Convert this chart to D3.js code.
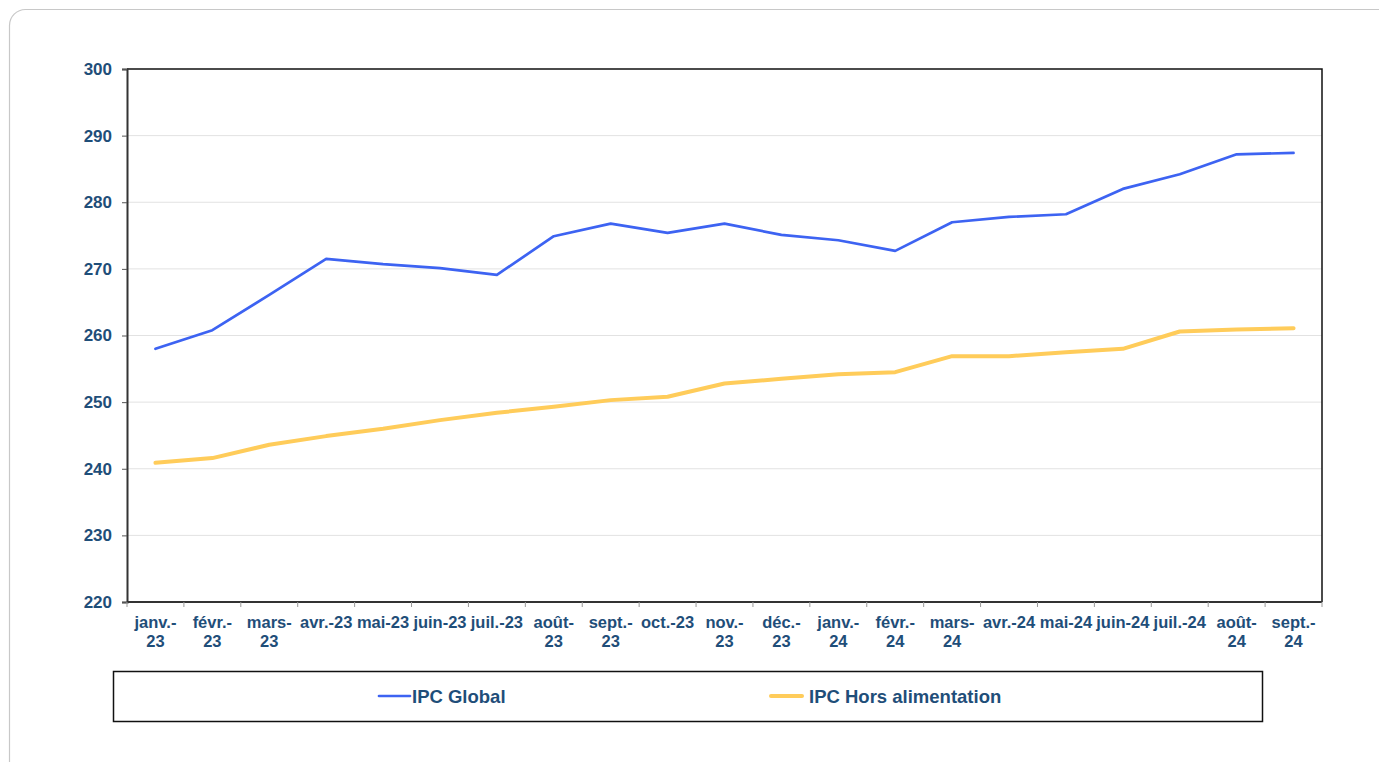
<!DOCTYPE html>
<html>
<head>
<meta charset="utf-8">
<script src="https://cdn.jsdelivr.net/npm/d3@7"></script>
<style>
  body { margin: 0; background: white; }
  svg { display: block; font-family: "Liberation Sans", Arial, sans-serif; }
</style>
</head>
<body>
<div id="chart-area"></div>
<script>
// months, "|" marks where the label wraps
const months = ["janv.-|23", "févr.-|23", "mars-|23", "avr.-23", "mai-23", "juin-23", "juil.-23",
    "août-|23", "sept.-|23", "oct.-23", "nov.-|23", "déc.-|23", "janv.-|24", "févr.-|24",
    "mars-|24", "avr.-24", "mai-24", "juin-24", "juil.-24", "août-|24", "sept.-|24"]

const ipcGlobal = [258.0, 260.8, 266.1, 271.5, 270.7, 270.1, 269.1, 274.9, 276.8, 275.4, 276.8,
    275.1, 274.3, 272.7, 277.0, 277.8, 278.2, 282.0, 284.2, 287.2, 287.4]

const ipcHorsAlim = [240.9, 241.6, 243.6, 244.9, 246.0, 247.3, 248.4, 249.3, 250.3, 250.8, 252.8,
    253.5, 254.2, 254.5, 256.9, 256.9, 257.5, 258.0, 260.6, 260.9, 261.1]

const yTicks = [220, 230, 240, 250, 260, 270, 280, 290, 300]

const series = [
    {name: "IPC Global", values: ipcGlobal, color: "#3d63f2", width: 2.7},
    {name: "IPC Hors alimentation", values: ipcHorsAlim, color: "#ffcc5a", width: 4}
]

const textColor = "#1f4e79"
const margin = {left: 127, top: 69}
const width = 1322 - 127, height = 602 - 69

const svg = d3.select("#chart-area").append("svg")
    .attr("width", 1379)
    .attr("height", 762)

// outer card
svg.append("rect")
    .attr("x", 9.5).attr("y", 9.5)
    .attr("width", 1420).attr("height", 800)
    .attr("rx", 16)
    .attr("fill", "white")
    .attr("stroke", "#c8c8c8")
    .attr("stroke-width", 1.2)

const g = svg.append("g")
    .attr("transform", `translate(${margin.left}, ${margin.top})`)

const x = d3.scaleBand()
    .domain(months)
    .range([0, width])

const y = d3.scaleLinear()
    .domain([220, 300])
    .range([height, 0])

// gridlines
g.append("g")
    .selectAll("line")
    .data(yTicks.filter(d => d > 220 && d < 300))
    .join("line")
    .attr("x1", 0).attr("x2", width)
    .attr("y1", d => y(d)).attr("y2", d => y(d))
    .attr("stroke", "#e2e2e2")
    .attr("stroke-width", 1)

// plot frame (top and right)
g.append("path")
    .attr("d", `M0,0H${width}V${height}`)
    .attr("fill", "none")
    .attr("stroke", "#111")
    .attr("stroke-width", 1.5)

// Y axis
const yAxisCall = d3.axisLeft(y)
    .tickValues(yTicks)
    .tickSize(5)
    .tickPadding(10)

const yAxis = g.append("g")
    .attr("class", "y axis")
    .call(yAxisCall)
yAxis.select(".domain").attr("stroke", "#333").attr("stroke-width", 2)
yAxis.selectAll(".tick line").attr("stroke", "#555")
yAxis.selectAll("text")
    .attr("fill", textColor)
    .attr("font-size", "17px")
    .attr("font-weight", "bold")

// X axis: ticks on category boundaries
const xAxis = g.append("g")
    .attr("class", "x axis")
    .attr("transform", `translate(0, ${height})`)

xAxis.append("line")
    .attr("x1", 0).attr("x2", width)
    .attr("stroke", "#333")
    .attr("stroke-width", 2)

xAxis.selectAll(".tick-mark")
    .data(months.concat([null]))
    .join("line")
    .attr("class", "tick-mark")
    .attr("x1", (d, i) => i * x.bandwidth())
    .attr("x2", (d, i) => i * x.bandwidth())
    .attr("y1", 0).attr("y2", 5)
    .attr("stroke", "#999")

const labels = xAxis.selectAll(".label")
    .data(months)
    .join("text")
    .attr("class", "label")
    .attr("x", d => x(d) + x.bandwidth() / 2)
    .attr("y", 26)
    .attr("text-anchor", "middle")
    .attr("fill", textColor)
    .attr("font-size", "16.5px")
    .attr("font-weight", "bold")

labels.each(function(d) {
    const parts = d.split("|")
    const el = d3.select(this)
    parts.forEach((p, i) => {
        el.append("tspan")
            .attr("x", x(d) + x.bandwidth() / 2)
            .attr("dy", i === 0 ? 0 : 19)
            .text(p)
    })
})

// lines
const line = d3.line()
    .x((d, i) => x(months[i]) + x.bandwidth() / 2)
    .y(d => y(d))

g.selectAll(".series")
    .data(series)
    .join("path")
    .attr("class", "series")
    .attr("d", d => line(d.values))
    .attr("fill", "none")
    .attr("stroke", d => d.color)
    .attr("stroke-width", d => d.width)
    .attr("stroke-linejoin", "round")
    .attr("stroke-linecap", "round")

// legend
const legend = svg.append("g")
legend.append("rect")
    .attr("x", 113.5).attr("y", 671.5)
    .attr("width", 1149).attr("height", 50)
    .attr("fill", "white")
    .attr("stroke", "#111")
    .attr("stroke-width", 1.5)

const legendX = [379, 771]
const legendTextX = [412, 809]
series.forEach((s, i) => {
    legend.append("line")
        .attr("x1", legendX[i]).attr("x2", legendX[i] + 31)
        .attr("y1", 696).attr("y2", 696)
        .attr("stroke", s.color)
        .attr("stroke-width", s.width)
        .attr("stroke-linecap", "round")
    legend.append("text")
        .attr("x", legendTextX[i])
        .attr("y", 702.5)
        .attr("fill", textColor)
        .attr("font-size", "18.5px")
        .attr("font-weight", "bold")
        .text(s.name)
})
</script>
</body>
</html>
